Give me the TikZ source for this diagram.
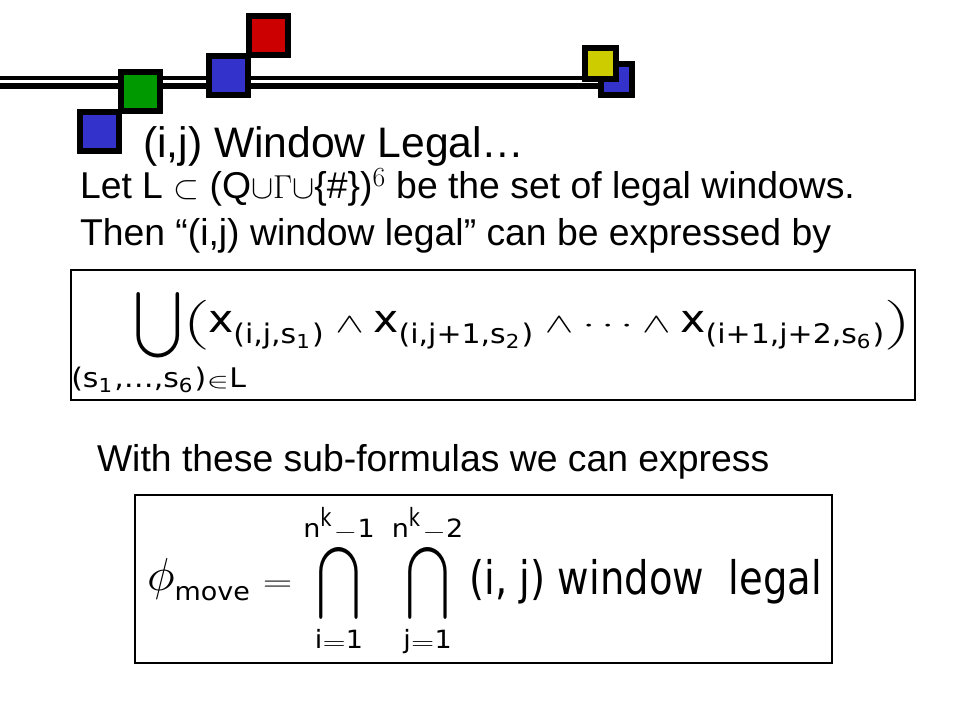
\documentclass[tikz,border=0pt]{standalone}
\usepackage{fontspec}
\setmainfont{Liberation Sans}
\newfontfamily\formulafont{DejaVu Sans}
\usepackage{amsmath,amssymb}
\usepackage{mathtools}
\usetikzlibrary{positioning}
\definecolor{azul}{RGB}{51,51,204}
\definecolor{verde}{RGB}{0,153,0}
\definecolor{rojo}{RGB}{204,0,0}
\definecolor{amarillo}{RGB}{204,204,0}
\newcommand{\tx}[1]{\text{\formulafont\scalebox{1}[1.4]{#1}}}
\newcommand{\sub}[1]{\textsubscript{#1}}
\newcommand{\opgrande}[2]{\mathop{\vcenter{\hbox{\scalebox{1}[#1]{$\displaystyle#2$}}}}\limits}

\begin{document}
\begin{tikzpicture}[x=0.75pt,y=-0.75pt,every node/.style={inner sep=0pt,outer sep=0pt},
    cuadro/.style={draw=black,line width=4.5pt},
    texto/.style={anchor=base west,font=\fontsize{28}{34}\selectfont},
    caja/.style={draw,line width=0.8pt,minimum width=#1}]
            \useasboundingbox (0,0) rectangle (960,720);
            % La linea doble y los cuadros de arriba
            \draw[line width=9.75pt] (0,82.5) -- (600,82.5);
            \draw[white,line width=2.6pt] (0,81.6) -- (600,81.6);
            \foreach \cx/\cy/\s/\c in {99.5/132/19.5/azul, 140/91.5/19.5/verde, 228/76/19.5/azul,
                268.5/35.5/19.5/rojo, 616/79.5/15.5/azul, 600/63.5/15.5/amarillo}
                \filldraw[cuadro,fill=\c] ({\cx-\s},{\cy-\s}) rectangle ({\cx+\s},{\cy+\s});

            \node[texto,font=\fontsize{32}{38}\selectfont] (title) at (143,158) {(i,j) Window Legal…};
            \node[texto] (let) at (80,199) {Let L $\subset$ (Q$\cup\Gamma\cup$\{\#\})$^{6}$ be the set of legal windows.};
            \node[texto] (then) at (80,246) {Then “(i,j) window legal” can be expressed by};

            \node[caja=633pt,minimum height=97.5pt] (caja1) at (493,335) {};
            \node (f1) at (523.5,342) {\resizebox*{582.75pt}{81pt}{$\displaystyle
                \opgrande{1.7}{\bigcup}_{\mathclap{\tx{(s\sub{1},…,s\sub{6})}\in\tx{L}}}\Bigl(\tx{x}_{\tx{(i,j,s\sub{1})}}\wedge\tx{x}_{\tx{(i,j+1,s\sub{2})}}
                \wedge\cdots\wedge\tx{x}_{\tx{(i+1,j+2,s\sub{6})}}\Bigr)$}};

            \node[texto] (with) at (97,471) {With these sub-formulas we can express};

            \node[caja=522.75pt,minimum height=126pt] (caja2) at (483.5,579) {};
            \node (f2) at (484.5,580.5) {\resizebox*{506.25pt}{113.25pt}{$\displaystyle
                \scalebox{1.2}[1.8]{$\phi$}_{\tx{move}}=\opgrande{2}{\bigcap}_{\tx{i}=\tx{1}}^{\tx{n$^{\tx{k}}$}-\tx{1}}\ \opgrande{2}{\bigcap}_{\tx{j}=\tx{1}}^{\tx{n$^{\tx{k}}$}-\tx{2}}
                \raisebox{-0.15em}{\text{\formulafont\scalebox{1}[1.8]{(i, j) window\ \ legal}}}$}};
        \end{tikzpicture}
\end{document}
